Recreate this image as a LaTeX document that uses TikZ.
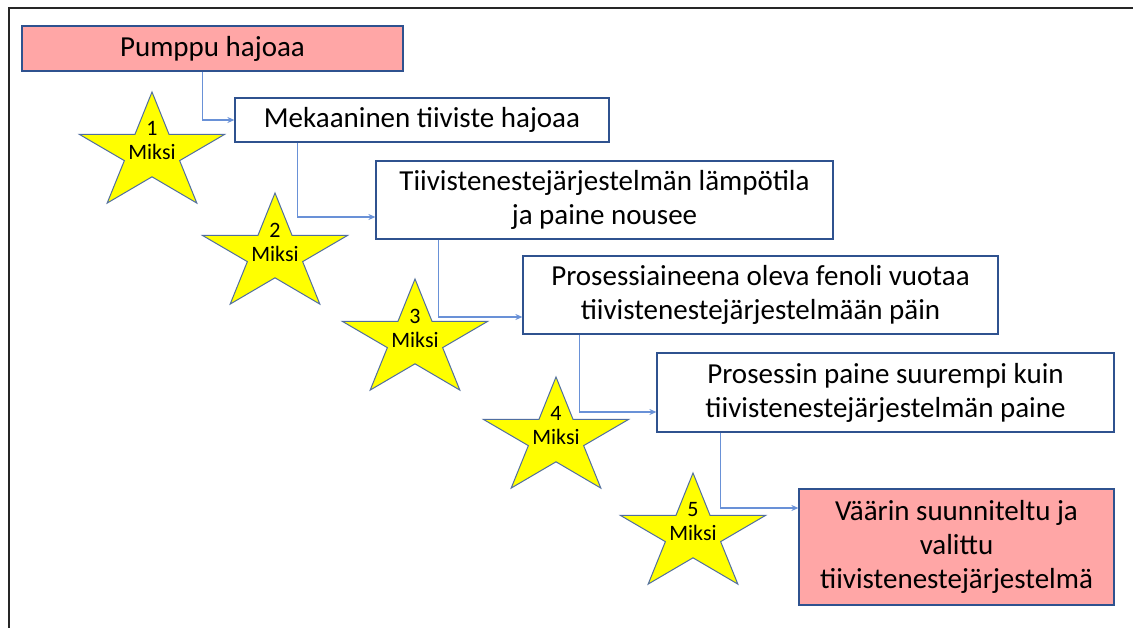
\documentclass[tikz,border=0pt]{standalone}
\usepackage{fontspec}
\setmainfont{Carlito}
\usetikzlibrary{arrows.meta}
\definecolor{boxline}{RGB}{47,82,143}
\definecolor{connline}{RGB}{105,145,215}
\definecolor{pinkfill}{RGB}{255,166,166}
\definecolor{starline}{RGB}{80,110,160}
\definecolor{starfill}{RGB}{255,255,0}
\begin{document}
\begin{tikzpicture}[x=1pt,y=-1pt,
  stepbox/.style={draw=boxline, line width=1.2pt, fill=white, inner sep=0pt,
    align=center, font=\fontsize{29}{34}\selectfont, text=black},
  rootbox/.style={stepbox, fill=pinkfill},
  conn/.style={draw=connline, line width=1.3pt, -{Stealth[length=7pt,width=6pt]}},
  starshape/.style={draw=starline, line width=1pt, fill=starfill, line join=miter},
  startext/.style={align=center, font=\fontsize{22}{24}\selectfont, inner sep=0pt, text=black}]
\useasboundingbox (0,0) rectangle (1133,628);
\fill[white] (0,0) rectangle (1133,628);
% frame lines along the top and left edges
\draw[line width=2.2pt, black!85] (9,628) -- (9,8) -- (1133,8);

% the "Miksi" stars (regular pentagram stretched sideways)
\foreach \i/\cx/\ty in {1/152/92, 2/275/193, 3/415/279, 4/556/377, 5/693/473}{
  \begin{scope}[shift={(\cx,\ty+61.4)}, xscale=1.242]
    \draw[starshape] (-90:61.4) -- (-54:23.4) -- (-18:61.4) -- (18:23.4)
      -- (54:61.4) -- (90:23.4) -- (126:61.4) -- (162:23.4)
      -- (198:61.4) -- (234:23.4) -- cycle;
  \end{scope}
  \node[startext] (s\i) at (\cx,\ty+49) {\i\\Miksi};
}

% cause chain
\node[rootbox, minimum width=381pt, minimum height=45pt] (b1) at (212.5,48.5) {Pumppu hajoaa};
\node[stepbox, minimum width=374pt, minimum height=44pt] (b2) at (422,120) {Mekaaninen tiiviste hajoaa};
\node[stepbox, minimum width=457pt, minimum height=78pt] (b3) at (604.5,200) {Tiivistenestejärjestelmän lämpötila\\ja paine nousee};
\node[stepbox, minimum width=475pt, minimum height=78pt] (b4) at (760.5,295) {Prosessiaineena oleva fenoli vuotaa\\tiivistenestejärjestelmään päin};
\node[stepbox, minimum width=457pt, minimum height=79pt] (b5) at (885.5,392.5) {Prosessin paine suurempi kuin\\tiivistenestejärjestelmän paine};
\node[rootbox, minimum width=315pt, minimum height=116pt] (b6) at (956.5,547) {Väärin suunniteltu ja\\valittu\\tiivistenestejärjestelmä};

% elbow connectors
\draw[conn] ([xshift=181pt]b1.south west) |- (b2.west);
\draw[conn] ([xshift=63pt]b2.south west) |- ([yshift=-17pt]b3.west);
\draw[conn] ([xshift=63pt]b3.south west) |- ([yshift=-22pt]b4.west);
\draw[conn] ([xshift=57pt]b4.south west) |- ([yshift=-19.5pt]b5.west);
\draw[conn] ([xshift=64pt]b5.south west) |- ([yshift=39pt]b6.west);
\end{tikzpicture}
\end{document}
